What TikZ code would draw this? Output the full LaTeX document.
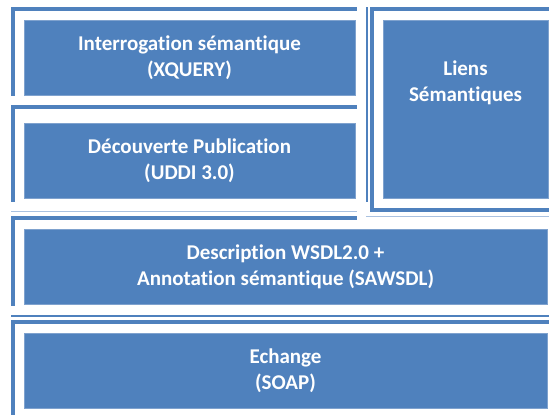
\documentclass[tikz,border=0pt]{standalone}
\usepackage{fontspec}
\setmainfont{Carlito}[Ligatures=NoCommon]
\definecolor{accent}{HTML}{4F81BD}
\definecolor{accentedge}{HTML}{7FA2CE}
\definecolor{accentlight}{HTML}{A9C1E0}
\tikzset{
  band/.style={fill=accent},
  hair/.style={draw=accentlight, line width=1pt},
  layer/.style={fill=accent, draw=accentedge, line width=0.6pt, inner sep=0pt},
  label/.style={text=white, align=center, inner sep=0pt,
    font=\bfseries\fontsize{21}{26}\selectfont},
}
\begin{document}
\begin{tikzpicture}[x=1pt,y=-1pt]
\useasboundingbox (0,0) rectangle (549,415);
\fill[white] (0,0) rectangle (549,415);

% frame of the query layer
\fill[band] (11,7) rectangle (357,11);
\fill[band] (11,7) rectangle (15,96);
% frame of the discovery layer
\fill[band] (11,105) rectangle (357,109);
\fill[band] (11,105) rectangle (15,202);
\draw[hair] (11,211) -- (357,211);

% frame of the semantic links column
\fill[band] (366,7) rectangle (368,202);
\fill[band] (370,7) rectangle (374,212);
\fill[band] (370,7) rectangle (549,11);
\fill[band] (370,208) rectangle (549,212);
\draw[hair] (366,216) -- (549,216);

% frame of the description layer
\fill[band] (11,216) rectangle (357,220);
\fill[band] (11,216) rectangle (15,306);

% frame of the exchange layer
\fill[band] (11,315) rectangle (549,317);
\fill[band] (11,320) rectangle (549,324);
\fill[band] (11,320) rectangle (15,415);

% layers
\node[layer, minimum width=331pt, minimum height=75pt] (query) at (189.5,57.5) {};
\node[label] (querytext) at (query.center) {Interrogation sémantique\\(XQUERY)};

\node[layer, minimum width=331pt, minimum height=75pt] (uddi) at (189.5,160.5) {};
\node[label] (udditext) at (uddi.center) {Découverte Publication\\(UDDI 3.0)};

\node[layer, minimum width=165pt, minimum height=178pt] (links) at (465.5,109) {};
\node[label] (linkstext) at (465.5,83) {Liens\\Sémantiques};

\node[layer, minimum width=523pt, minimum height=75pt] (wsdl) at (285.5,266.5) {};
\node[label] (wsdltext) at (wsdl.center) {Description WSDL2.0 +\\Annotation sémantique (SAWSDL)};

\node[layer, minimum width=523pt, minimum height=75pt] (soap) at (285.5,370.5) {};
\node[label] (soaptext) at (soap.center) {Echange\\(SOAP)};
\end{tikzpicture}
\end{document}
